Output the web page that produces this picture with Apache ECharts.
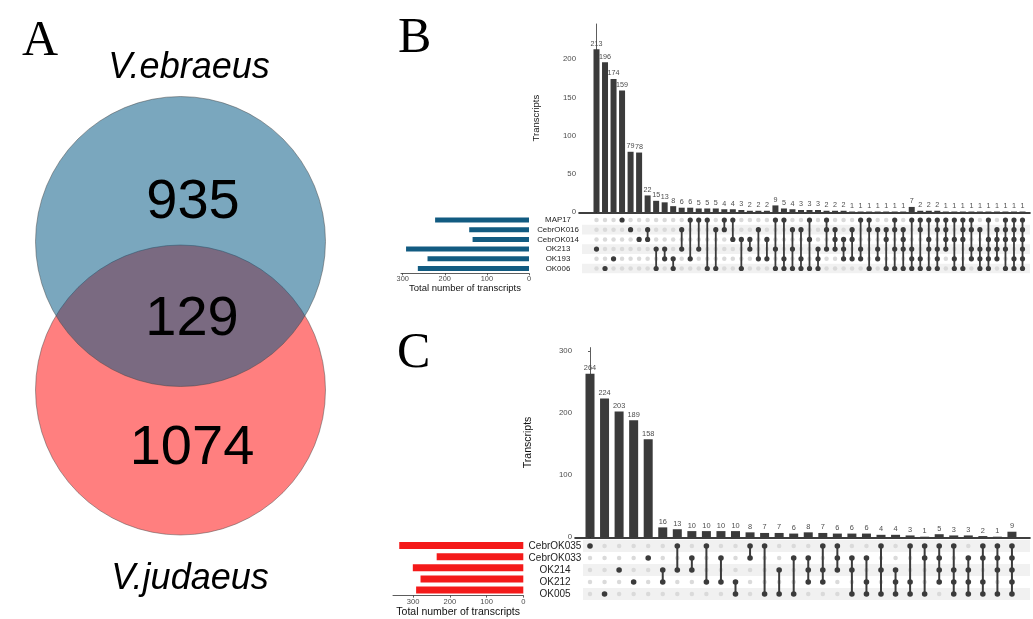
<!DOCTYPE html>
<html><head><meta charset="utf-8">
<script src="https://cdn.jsdelivr.net/npm/echarts@6/dist/echarts.min.js"></script>
<style>html,body{margin:0;padding:0;background:#fff}#c{width:1033px;height:619px}</style>
</head><body><div id="c"></div>
<script>
// ---------- DATA ----------
const vennSets = ['V.ebraeus', 'V.judaeus'];
const vennCounts = [935, 129, 1074]; // only ebraeus, shared, only judaeus

const bSets = ['MAP17', 'CebrOK016', 'CebrOK014', 'OK213', 'OK193', 'OK006'];
const bSetSizes = [223, 142, 134, 292, 241, 264];
const bCounts = [213,196,174,159,79,78,22,15,13,8,6,6,5,5,5,4,4,3,2,2,2,
  9,5,4,3,3,3,2,2,2,1,1,1,1,1,1,1,7,2,2,2,1,1,1,1,1,1,1,1,1,1];
const bCombos = [[3],[5],[4],[0],[1],[2],[1,2],[3,5],[3,4],[4,5],[1,3],[0,4],[0,3],[0,5],[1,5],[0,1],[0,2],[2,5],[2,3],[1,4],[2,4],
  [0,3,5],[0,4,5],[1,3,5],[1,4,5],[0,2,5],[3,4,5],[0,1,3],[1,2,3],[2,3,4],[1,2,4],[0,3,4],[0,1,5],[1,3,4],[1,2,5],[0,1,3,5],[1,2,3,5],
  [0,3,4,5],[0,1,4,5],[0,2,3,5],[0,1,3,4,5],[0,1,2,3],[0,2,4,5],[0,1,2,5],[0,1,3,4],[1,3,4,5],[0,2,3,4,5],[1,2,3,4],[0,1,2,3,5],[0,1,2,4,5],[0,1,2,3,4,5]];
const bBarTicks = [0, 50, 100, 150, 200];
const bSetTicks = [0, 100, 200, 300];

const cSets = ['CebrOK035', 'CebrOK033', 'OK214', 'OK212', 'OK005'];
const cSetSizes = [338, 236, 301, 280, 292];
const cCounts = [264,224,203,189,158,16,13,10,10,10,10,8,7,7,6,8,7,6,6,6,4,4,3,1,5,3,3,2,1,9];
const cCombos = [[0],[4],[2],[3],[1],[2,3],[0,2],[1,2],[0,3],[1,3],[3,4],[0,1],[0,4],[2,4],[1,4],
  [1,2,3],[0,2,3],[0,1,2],[1,2,4],[1,3,4],[0,2,4],[2,3,4],[0,3,4],[0,1,4],
  [0,1,2,3],[0,2,3,4],[1,2,3,4],[0,1,3,4],[0,1,2,4],[0,1,2,3,4]];
const cBarTicks = [0, 100, 200, 300];
const cSetTicks = [0, 100, 200, 300];

// ---------- LAYOUT / STYLE ----------
const FONT = '"Liberation Sans", Arial, Helvetica, sans-serif';
const grids = [], xAxes = [], yAxes = [], series = [];

// Venn panel (pixel-like hidden axes)
const venn = { centers: [[180.5, 241.5], [180.5, 390]], size: 290,
  labelPos: [[193, 203], [192, 320], [192, 449]] };
grids.push({ left: 0, top: 0, width: 360, height: 619 });
xAxes.push({ type: 'value', gridIndex: 0, min: 0, max: 360, show: false });
yAxes.push({ type: 'value', gridIndex: 0, min: 0, max: 619, inverse: true, show: false });
series.push({
  type: 'scatter', xAxisIndex: 0, yAxisIndex: 0, silent: true, clip: false, z: 1,
  symbol: 'circle', symbolSize: venn.size,
  data: [
    { name: vennSets[1], value: venn.centers[1], itemStyle: { opacity: 1, color: 'rgba(255,0,0,0.5)', borderColor: 'rgba(70,70,70,0.6)', borderWidth: 0.8 } },
    { name: vennSets[0], value: venn.centers[0], itemStyle: { opacity: 1, color: 'rgba(0,86,130,0.52)', borderColor: 'rgba(70,70,70,0.6)', borderWidth: 0.8 } }
  ]
});
series.push({
  type: 'scatter', xAxisIndex: 0, yAxisIndex: 0, silent: true, clip: false, z: 3,
  symbolSize: 0, itemStyle: { opacity: 1, color: 'rgba(0,0,0,0)' },
  data: vennCounts.map((v, i) => ({ value: [venn.labelPos[i][0], venn.labelPos[i][1], v] })),
  label: { show: true, position: 'inside', formatter: p => String(p.value[2]),
    fontFamily: FONT, fontSize: 56, color: '#000' }
});

function upset(cfg) {
  const g0 = grids.length;
  const n = cfg.sets.length;
  const mTop = cfg.rowTop - cfg.rowStep / 2, mH = cfg.rowStep * n;
  const W = cfg.rightX - cfg.axisX;
  grids.push({ left: cfg.axisX, top: cfg.barTop, width: W, height: cfg.baseY - cfg.barTop });
  grids.push({ left: cfg.axisX, top: mTop, width: W, height: mH });
  grids.push({ left: cfg.setLeft, top: mTop, width: cfg.setRight - cfg.setLeft, height: mH });
  const xmin = -(cfg.col1X - cfg.axisX) / cfg.colStep;
  const xmax = (cfg.rightX - cfg.col1X) / cfg.colStep;
  const ax0 = xAxes.length;
  // bar grid axes
  xAxes.push({ type: 'value', gridIndex: g0, min: xmin, max: xmax,
    axisLine: { show: true, onZero: false, lineStyle: { color: '#000', width: 1.6 } },
    axisTick: { show: false }, axisLabel: { show: false }, splitLine: { show: false } });
  yAxes.push({ type: 'value', gridIndex: g0, min: 0, max: cfg.barMax,
    axisLine: { show: true, lineStyle: { color: '#333', width: 0.8 } },
    axisTick: { show: true, length: 2, lineStyle: { color: '#333', width: 0.8 }, customValues: cfg.barTicks },
    axisLabel: { customValues: cfg.barTicks, fontFamily: FONT, fontSize: cfg.tickFont, color: '#4d4d4d', margin: 3 },
    splitLine: { show: false },
    name: 'Transcripts', nameLocation: 'middle', nameRotate: 90, nameGap: cfg.yNameGap,
    nameTextStyle: { fontFamily: FONT, fontSize: cfg.titleFont, color: '#111' } });
  // matrix axes
  xAxes.push({ type: 'value', gridIndex: g0 + 1, min: xmin, max: xmax, show: false });
  yAxes.push({ type: 'category', gridIndex: g0 + 1, data: cfg.sets, inverse: true, z: 10,
    axisLine: { show: false }, axisTick: { show: false }, splitLine: { show: false },
    axisLabel: { interval: 0, hideOverlap: false, fontFamily: FONT, fontSize: cfg.nameFont, color: '#222', align: 'center', margin: cfg.nameMargin } });
  // set-size axes
  xAxes.push({ type: 'value', gridIndex: g0 + 2, min: 0, max: cfg.setMax, inverse: true,
    axisLine: { show: true, onZero: false, lineStyle: { color: '#333', width: 0.8 } },
    axisTick: { show: true, length: 2, lineStyle: { color: '#333', width: 0.8 }, customValues: cfg.setTicks },
    axisLabel: { customValues: cfg.setTicks, fontFamily: FONT, fontSize: cfg.setTickFont, color: '#4d4d4d', margin: 2.5 },
    splitLine: { show: false },
    name: 'Total number of transcripts', nameLocation: 'middle', nameGap: cfg.xNameGap,
    nameTextStyle: { fontFamily: FONT, fontSize: cfg.titleFont, color: '#111' } });
  yAxes.push({ type: 'category', gridIndex: g0 + 2, data: cfg.sets, inverse: true, show: false });

  // intersection bars
  series.push({ type: 'bar', xAxisIndex: ax0, yAxisIndex: ax0, barWidth: cfg.barW, silent: true,
    itemStyle: { color: '#3b3b3b' },
    data: cfg.counts.map((v, i) => [i, v]),
    label: { show: true, position: 'top', distance: 2, formatter: p => String(p.value[1]),
      fontFamily: FONT, fontSize: cfg.valFont, color: '#4d4d4d' } });
  // stripes
  const shaded = [];
  for (let r = 0; r < n; r++) if ((n - 1 - r) % 2 === 0) shaded.push([0, r]);
  series.push({ type: 'custom', xAxisIndex: ax0 + 1, yAxisIndex: ax0 + 1, silent: true, z: 1,
    encode: { x: 0, y: 1 }, data: shaded,
    renderItem: (params, api) => {
      const p = api.coord([0, api.value(1)]);
      const h = api.size([0, 1])[1];
      const cs = params.coordSys;
      return { type: 'rect', shape: { x: cs.x + cfg.stripeOff, y: p[1] - h / 2, width: cs.width - cfg.stripeOff, height: h },
        style: { fill: '#f1f1f1' } };
    } });
  // empty dots
  const all = [];
  cfg.counts.forEach((_, i) => { for (let r = 0; r < n; r++) all.push([i, r]); });
  series.push({ type: 'scatter', xAxisIndex: ax0 + 1, yAxisIndex: ax0 + 1, silent: true, z: 2,
    symbolSize: cfg.emptyDot, itemStyle: { opacity: 1, color: '#dadada' }, data: all });
  // connecting lines
  const lines = [];
  cfg.combos.forEach((c, i) => { if (c.length > 1) lines.push([i, Math.min(...c), Math.max(...c)]); });
  series.push({ type: 'custom', xAxisIndex: ax0 + 1, yAxisIndex: ax0 + 1, silent: true, z: 3,
    encode: { x: 0, y: [1, 2] }, data: lines,
    renderItem: (params, api) => {
      const a = api.coord([api.value(0), api.value(1)]);
      const b = api.coord([api.value(0), api.value(2)]);
      return { type: 'line', shape: { x1: a[0], y1: a[1], x2: b[0], y2: b[1] },
        style: { stroke: '#3b3b3b', lineWidth: cfg.lineW } };
    } });
  // filled dots
  const filled = [];
  cfg.combos.forEach((c, i) => c.forEach(r => filled.push([i, r])));
  series.push({ type: 'scatter', xAxisIndex: ax0 + 1, yAxisIndex: ax0 + 1, silent: true, z: 4,
    symbolSize: cfg.fullDot, itemStyle: { opacity: 1, color: '#3b3b3b' }, data: filled });
  // set size bars
  series.push({ type: 'bar', xAxisIndex: ax0 + 2, yAxisIndex: ax0 + 2, barWidth: cfg.setBarW, silent: true,
    itemStyle: { color: cfg.setColor }, data: cfg.sizes.map((v, i) => [v, i]) });
}

upset({ sets: bSets, sizes: bSetSizes, counts: bCounts, combos: bCombos,
  barTicks: bBarTicks, setTicks: bSetTicks,
  axisX: 579, barTop: 24, baseY: 212.3, barMax: 245.8, col1X: 596.5, colStep: 8.52, rightX: 1030,
  rowTop: 220, rowStep: 9.7, setLeft: 401, setRight: 529, setMax: 304,
  barW: 6, setBarW: 5, setColor: '#125b81', emptyDot: 4.5, fullDot: 5.2, lineW: 1.8,
  tickFont: 7.8, setTickFont: 7.4, valFont: 7.2, nameFont: 7.9, titleFont: 9.5,
  nameMargin: 21, yNameGap: 38, xNameGap: 10, stripeOff: 3 });

upset({ sets: cSets, sizes: cSetSizes, counts: cCounts, combos: cCombos,
  barTicks: cBarTicks, setTicks: cSetTicks,
  axisX: 575, barTop: 347.6, baseY: 537.3, barMax: 306, col1X: 590, colStep: 14.55, rightX: 1030,
  rowTop: 546, rowStep: 12, setLeft: 393, setRight: 523.3, setMax: 355,
  barW: 9, setBarW: 7, setColor: '#f41a1a', emptyDot: 4.5, fullDot: 5.6, lineW: 2,
  tickFont: 7.8, setTickFont: 7.6, valFont: 7.4, nameFont: 10, titleFont: 10.5,
  nameMargin: 20, yNameGap: 41, xNameGap: 9, stripeOff: 8 });

const chart = echarts.init(document.getElementById('c'), null, { renderer: 'canvas' });
chart.setOption({
  animation: false,
  backgroundColor: '#fff',
  grid: grids, xAxis: xAxes, yAxis: yAxes, series: series,
  graphic: [
    { type: 'text', left: 22, top: 17, style: { text: 'A', font: '50px "Liberation Serif", "Times New Roman", serif', fill: '#000' } },
    { type: 'text', left: 398, top: 14, style: { text: 'B', font: '50px "Liberation Serif", "Times New Roman", serif', fill: '#000' } },
    { type: 'text', left: 397, top: 329, style: { text: 'C', font: '50px "Liberation Serif", "Times New Roman", serif', fill: '#000' } },
    { type: 'text', x: 189, y: 68, style: { text: vennSets[0], font: 'italic 36px "Liberation Sans", Arial, sans-serif', fill: '#000', align: 'center', verticalAlign: 'middle' } },
    { type: 'text', x: 190, y: 579, style: { text: vennSets[1], font: 'italic 36px "Liberation Sans", Arial, sans-serif', fill: '#000', align: 'center', verticalAlign: 'middle' } }
  ]
});
</script></body></html>
